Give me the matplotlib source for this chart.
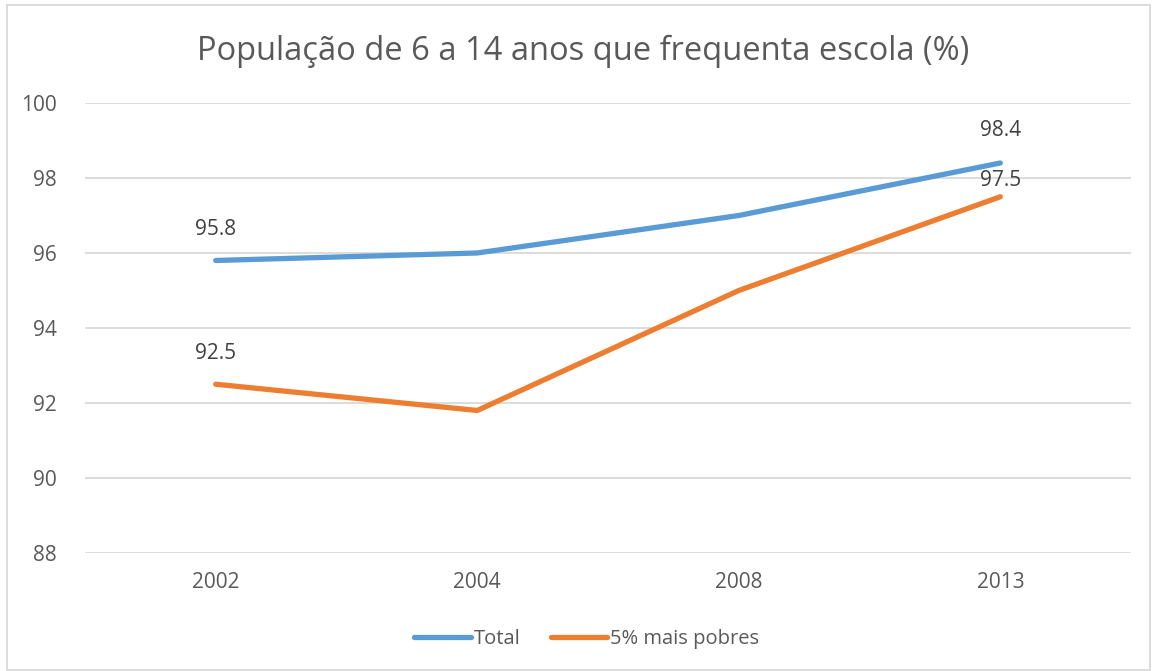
import matplotlib.pyplot as plt
import numpy as np

plt.rcParams['font.family'] = ['Open Sans', 'DejaVu Sans']

anos = ["2002", "2004", "2008", "2013"]
total = [95.8, 96.0, 97.0, 98.4]
pobres = [92.5, 91.8, 95.0, 97.5]
yticks = [88, 90, 92, 94, 96, 98, 100]

azul = "#5B9BD5"
laranja = "#ED7D31"
cinza_txt = "#595959"
cinza_grid = "#D9D9D9"

fig = plt.figure(figsize=(11.53, 6.71), dpi=100)
ax = fig.add_axes([0.0737, 0.1759, 0.9073, 0.6706])

x = np.arange(len(anos))
ax.plot(x, total, color=azul, lw=3.8, solid_capstyle="round", label="Total")
ax.plot(x, pobres, color=laranja, lw=3.8, solid_capstyle="round", label="5% mais pobres")

# data labels (only where the reference shows them)
for i, dy in [(0, 31), (3, 32)]:
    ax.annotate(f"{total[i]:.1f}", (x[i], total[i]), xytext=(0, dy), textcoords="offset pixels",
                ha="center", va="center", fontsize=15, color="#404040")
for i, dy in [(0, 31), (3, 16)]:
    ax.annotate(f"{pobres[i]:.1f}", (x[i], pobres[i]), xytext=(0, dy), textcoords="offset pixels",
                ha="center", va="center", fontsize=15, color="#404040")

ax.set_xlim(-0.5, len(anos) - 0.5)
ax.set_ylim(88, 100)
ax.set_yticks(yticks)
ax.set_xticks(x)
ax.set_xticklabels(anos)
ax.tick_params(axis="both", length=0, labelsize=15, labelcolor=cinza_txt)
ax.tick_params(axis="y", pad=20)
ax.tick_params(axis="x", pad=14)
ax.grid(axis="y", color=cinza_grid, lw=1.3)
ax.set_axisbelow(True)
for s in ax.spines.values():
    s.set_visible(False)

fig.text(0.506, 0.924, "População de 6 a 14 anos que frequenta escola (%)",
         ha="center", va="center", fontsize=23.5, color=cinza_txt)

fig.legend(loc="center", bbox_to_anchor=(0.509, 0.047), ncol=2, frameon=False,
           fontsize=14.5, labelcolor=cinza_txt, handlelength=2.8, handletextpad=0.15,
           columnspacing=1.5)

# outer chart border
fig.add_artist(plt.Rectangle((0.006, 0.002), 0.991, 0.99, transform=fig.transFigure,
                             fill=False, edgecolor=cinza_grid, lw=1.3))

fig.savefig("out.png", dpi=100)
